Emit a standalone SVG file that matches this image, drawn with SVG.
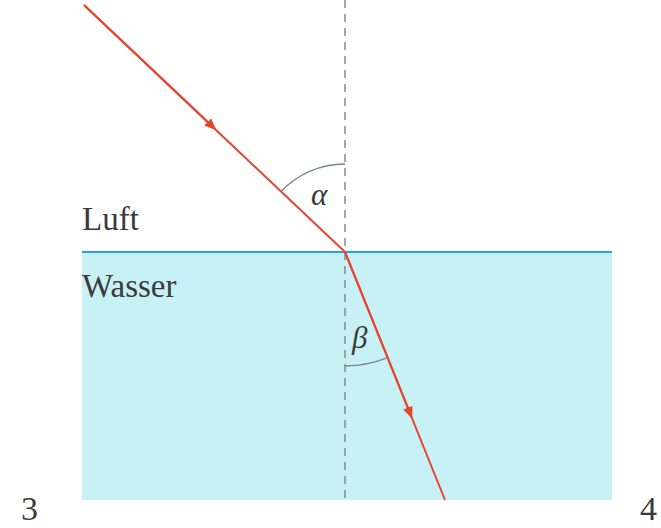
<svg xmlns="http://www.w3.org/2000/svg" width="661" height="528" viewBox="0 0 661 528">
<style>
.ray{stroke:#e8432c;stroke-width:2;fill:none}
.arc{stroke:#7d8585;stroke-width:1.3;fill:none}
.t{font-family:'Liberation Serif','Times New Roman','DejaVu Serif',serif;fill:#3a3a3a}
</style>
<defs>
<marker id="ah" viewBox="0 0 12 10" refX="6" refY="5" markerWidth="12" markerHeight="10" markerUnits="userSpaceOnUse" orient="auto">
<path d="M0,0 L12,5 L0,10 z" fill="#e8432c"/>
</marker>
</defs>
<rect width="661" height="528" fill="#fff"/>
<g id="water">
<rect x="82" y="252" width="530" height="248" fill="#c8f1f6"/>
<line x1="82" y1="252" x2="612" y2="252" stroke="#2b9fdf" stroke-width="2"/>
</g>
<g id="normal">
<line x1="345" y1="0" x2="345" y2="500" stroke="#8a8a8a" stroke-width="1.5" stroke-dasharray="8,6"/>
</g>
<g id="connectors">
<path class="ray" d="M84,5 L345,252" />
<path class="ray" d="M84,5 L212,126.1" marker-end="url(#ah)"/>
<path class="ray" d="M345,252 L445,500"/>
<path class="ray" d="M345,252 L410,413.2" marker-end="url(#ah)"/>
</g>
<g id="angles">
<path class="arc" d="M345,164 A88,88 0 0 0 281,191.5"/>
<path class="arc" d="M345,366 A114,114 0 0 0 387.6,357.7"/>
<text class="t" x="311" y="205" style="font-size:31px;font-style:italic">α</text>
<text class="t" x="352" y="348" style="font-size:31px;font-style:italic">β</text>
</g>
<g id="labels">
<text class="t" x="82" y="230" style="font-size:33px">Luft</text>
<text class="t" x="82" y="297" style="font-size:33px">Wasser</text>
<text class="t" x="21" y="520" style="font-size:34px">3</text>
<text class="t" x="640" y="520" style="font-size:34px">4</text>
</g>
</svg>
